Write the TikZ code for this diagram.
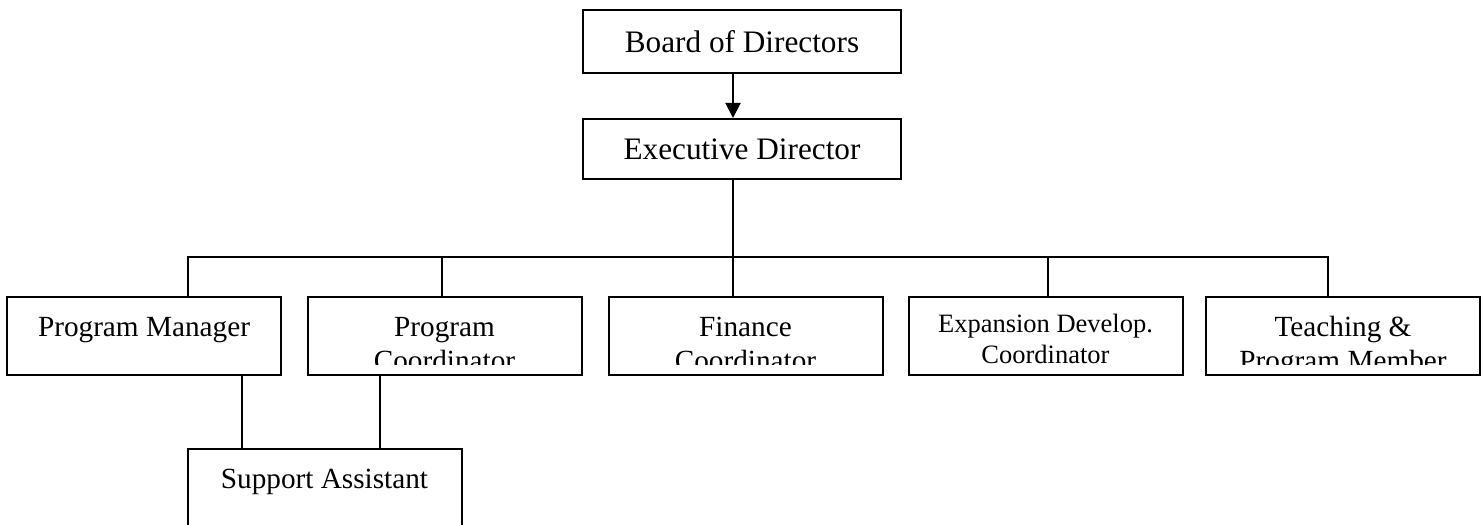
\documentclass[tikz,border=0pt]{standalone}
\usepackage{fontspec}
\setmainfont{Liberation Serif}
\usetikzlibrary{arrows.meta, positioning}

\newcommand\headfont{\fontsize{12.5}{14.4}\selectfont}
\newcommand\unitfont{\fontsize{11.7}{13.6}\selectfont}
\newcommand\expfont{\fontsize{10.6}{12.4}\selectfont}

\tikzset{
  head/.style={draw, minimum width=127.2pt, inner sep=0pt, font=\headfont},
  unit/.style={draw, minimum width=109.6pt, minimum height=31.2pt, inner sep=0pt},
  cut/.style 2 args={path picture={
      \clip (path picture bounding box.north west)
        rectangle ([yshift=4.4pt]path picture bounding box.south east);
      \node[draw=none, minimum width=0pt, minimum height=0pt, anchor=north,
            align=center, inner sep=0pt, #2]
        at ([yshift=-6pt]path picture bounding box.north) {\strut#1};}},
}

\begin{document}
\begin{tikzpicture}[x=0.4pt, y=-0.4pt, line width=0.8pt]
          \clip (0,0) rectangle (1483,525);

          % Nodes
          \node[head, minimum height=25.2pt] (board) at (742,41.5) {Board of Directors};
          \node[head, minimum height=24pt] (exec) at (742,149) {Executive Director};

          \node[unit, cut={Program Manager}{font=\unitfont}] (pm) at (144,336) {};
          \node[unit, cut={Program\\Coordinator}{font=\unitfont}] (pc) at (444.5,336) {};
          \node[unit, cut={Finance\\Coordinator}{font=\unitfont}] (fin) at (745.5,336) {};
          \node[unit, cut={Expansion Develop.\\Coordinator}{font=\expfont, yshift=0.8pt}] (exp) at (1045.5,336) {};
          \node[unit, cut={Teaching \&\\Program Member}{font=\unitfont}] (teach) at (1343,336) {};

          \node[unit, cut={Support Assistant}{font=\unitfont}] (sa) at (324.5,488) {};

          \coordinate (bus) at (733,257);

          % Edges
          \draw[-{Triangle[length=6pt,width=6pt]}] (board.south -| bus) -- (exec.north -| bus);
          \draw (exec.south -| bus) -- (bus);
          \draw (pm.north -| 188,0) -- (188,257) -- (1328,257) -- (teach.north -| 1328,0);
          \foreach \n/\x in {pc/442, fin/733, exp/1048}
            \draw (\x,257) -- (\n.north -| \x,0);

          \draw (pm.south -| 242,0) -- (sa.north -| 242,0);
          \draw (pc.south -| 380,0) -- (sa.north -| 380,0);

        \end{tikzpicture}
\end{document}
